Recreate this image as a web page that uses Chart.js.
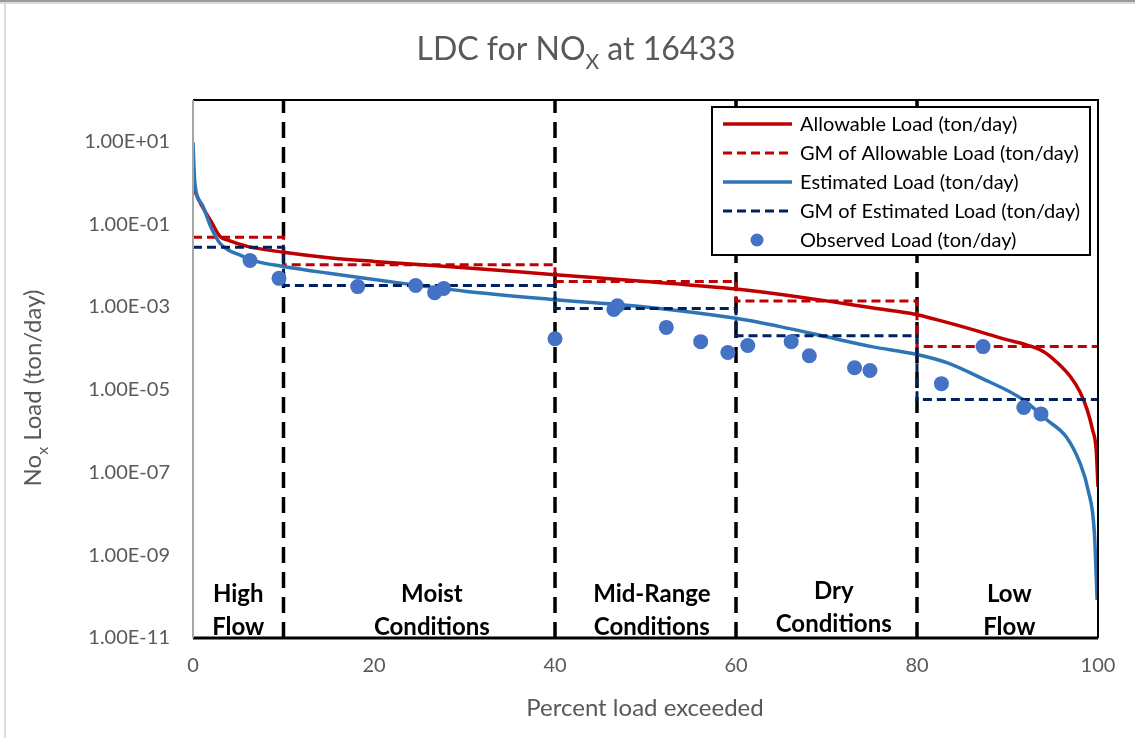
<!DOCTYPE html>
<html>
<head>
<meta charset="utf-8">
<script src="https://cdn.jsdelivr.net/npm/chart.js@4"></script>
<style>
  html, body { margin: 0; padding: 0; background: #fff; }
  #wrap { width: 1135px; height: 738px; }
</style>
</head>
<body>
<div id="wrap"><canvas id="chart" width="1135" height="738"></canvas></div>
<script>
// -------------------------
// DATA
// -------------------------
const allowPct = [0, 1, 2, 3, 4, 6, 10, 15, 20, 30, 40, 50, 60, 65, 70, 75, 80, 83, 87, 90, 92, 94, 95.5, 97, 98, 98.8, 99.4, 99.8, 100];
const allowLoad = [0.78, 0.27, 0.117, 0.050, 0.040, 0.029, 0.021, 0.0155, 0.0126, 0.0089, 0.0060, 0.0041, 0.0027, 0.0020, 0.0014, 0.00095, 0.00065, 0.00044, 0.00025, 0.00016, 0.000123, 0.000083, 0.000045, 0.000020, 0.0000089, 0.0000033, 0.00000107, 0.00000035, 0.000000045];

const estPct = [0, 0.2, 1, 2, 3, 4, 5, 7, 10, 15, 20, 30, 40, 50, 60, 65, 70, 75, 80, 83.3, 87, 91.7, 94.3, 96.5, 98, 98.9, 99.6, 99.9];
const estLoad = [9.5, 1.0, 0.30, 0.083, 0.034, 0.023, 0.0186, 0.0126, 0.0095, 0.0065, 0.0046, 0.0024, 0.0015, 0.0010, 0.00053, 0.00033, 0.00019, 0.00011, 0.000071, 0.000045, 0.0000195, 0.0000058, 0.0000019, 0.00000072, 0.00000017, 0.000000038, 0.0000000035, 0.000000000083];

const regionEdges = [0, 10, 40, 60, 80, 100];
const regionNames = [["High", "Flow"], ["Moist", "Conditions"], ["Mid-Range", "Conditions"], ["Dry", "Conditions"], ["Low", "Flow"]];
const gmAllowable = [0.048, 0.0105, 0.0041, 0.0014, 0.00011];
const gmEstimated = [0.0275, 0.0033, 0.00091, 0.00020, 0.0000058];

const obsPct = [6.3, 9.5, 18.2, 24.6, 26.7, 27.7, 40.0, 46.5, 46.9, 52.3, 56.1, 59.1, 61.3, 66.1, 68.1, 73.1, 74.8, 82.7, 87.3, 91.8, 93.7];
const obsLoad = [0.0132, 0.0049, 0.0031, 0.0033, 0.0022, 0.0028, 0.00017, 0.00087, 0.00107, 0.00032, 0.000145, 0.000079, 0.000117, 0.000145, 0.000066, 0.000034, 0.000029, 0.000014, 0.00011, 0.0000037, 0.0000026];

const xTicks = [0, 20, 40, 60, 80, 100];
const yTicks = [1e-11, 1e-9, 1e-7, 1e-5, 1e-3, 1e-1, 1e1];

// -------------------------
// HELPERS
// -------------------------
const toPoints = (xs, ys) => xs.map((x, i) => ({ x: x, y: ys[i] }));

function stepPoints(edges, vals) {
    const pts = [];
    vals.forEach((v, i) => {
        pts.push({ x: edges[i], y: v });
        pts.push({ x: edges[i + 1], y: v });
    });
    return pts;
}

function sciLabel(v) {
    const parts = Number(v).toExponential(2).split("e");
    let exp = parseInt(parts[1], 10);
    const sign = exp < 0 ? "-" : "+";
    exp = Math.abs(exp);
    return parts[0] + "E" + sign + (exp < 10 ? "0" + exp : exp);
}

// text with subscripts: parts = [[text, isSub], ...]
function drawParts(ctx, parts, x, y, size, color) {
    const subSize = Math.round(size * 0.66);
    let total = 0;
    parts.forEach(p => {
        ctx.font = (p[1] ? subSize : size) + "px Lato";
        total += ctx.measureText(p[0]).width;
    });
    let cx = x - total / 2;
    ctx.fillStyle = color;
    ctx.textAlign = "left";
    ctx.textBaseline = "alphabetic";
    parts.forEach(p => {
        ctx.font = (p[1] ? subSize : size) + "px Lato";
        ctx.fillText(p[0], cx, p[1] ? y + size * 0.28 : y);
        cx += ctx.measureText(p[0]).width;
    });
}

const RED = "#C00000";
const BLUE = "#2E75B6";
const NAVY = "#002060";
const DOT = "#4472C4";
const GREY_TEXT = "#595959";

const legendItems = [
    { label: "Allowable Load (ton/day)", color: RED, dash: [] },
    { label: "GM of Allowable Load (ton/day)", color: RED, dash: [9, 5] },
    { label: "Estimated Load (ton/day)", color: BLUE, dash: [] },
    { label: "GM of Estimated Load (ton/day)", color: NAVY, dash: [9, 5] },
    { label: "Observed Load (ton/day)", color: DOT, dot: true }
];

// -------------------------
// DECORATION PLUGIN
// -------------------------
const decor = {
    id: "decor",
    beforeDraw(chart) {
        const ctx = chart.ctx;
        ctx.save();
        ctx.fillStyle = "#fff";
        ctx.fillRect(0, 0, chart.width, chart.height);
        ctx.fillStyle = "#9a9a9a";
        ctx.fillRect(0, 0, chart.width, 2);
        ctx.fillStyle = "#dcdcdc";
        ctx.fillRect(0, 2, chart.width, 2);
        ctx.fillRect(4, 2, 2, chart.height);
        ctx.restore();
    },
    afterDatasetsDraw(chart) {
        const ctx = chart.ctx;
        const a = chart.chartArea;
        const xs = chart.scales.x;
        ctx.save();

        // plot frame
        ctx.strokeStyle = "#000";
        ctx.lineWidth = 2;
        ctx.beginPath();
        ctx.moveTo(a.left, a.top);
        ctx.lineTo(a.right, a.top);
        ctx.lineTo(a.right, a.bottom);
        ctx.stroke();
        ctx.lineWidth = 3;
        ctx.beginPath();
        ctx.moveTo(a.left, a.bottom);
        ctx.lineTo(a.right, a.bottom);
        ctx.stroke();
        ctx.strokeStyle = "#a6a6a6";
        ctx.lineWidth = 2;
        ctx.beginPath();
        ctx.moveTo(a.left, a.top);
        ctx.lineTo(a.left, a.bottom);
        ctx.stroke();

        // flow region labels
        const shift = [0, 1.4, 0.7, 0.8, 0.2];
        const lift = [0, 0, 0, 3, 0];
        ctx.fillStyle = "#000";
        ctx.font = "bold 24px Lato";
        ctx.textAlign = "center";
        ctx.textBaseline = "middle";
        regionNames.forEach((lines, i) => {
            const mid = (regionEdges[i] + regionEdges[i + 1]) / 2 + shift[i];
            const px = xs.getPixelForValue(mid);
            ctx.fillText(lines[0], px, 594 - lift[i]);
            ctx.fillText(lines[1], px, 627 - lift[i]);
        });

        // legend
        const lx = 712, ly = 107, lw = 378, lh = 148;
        ctx.fillStyle = "#fff";
        ctx.fillRect(lx, ly, lw, lh);
        ctx.strokeStyle = "#000";
        ctx.lineWidth = 2;
        ctx.strokeRect(lx, ly, lw, lh);
        ctx.font = "20px Lato";
        ctx.textAlign = "left";
        ctx.textBaseline = "middle";
        legendItems.forEach((it, i) => {
            const y = 124 + i * 29;
            if (it.dot) {
                ctx.fillStyle = it.color;
                ctx.beginPath();
                ctx.arc(757, y, 6.5, 0, Math.PI * 2);
                ctx.fill();
            } else {
                ctx.strokeStyle = it.color;
                ctx.lineWidth = it.dash.length ? 3 : 3.5;
                ctx.setLineDash(it.dash);
                ctx.beginPath();
                ctx.moveTo(723, y);
                ctx.lineTo(792, y);
                ctx.stroke();
                ctx.setLineDash([]);
            }
            ctx.fillStyle = "#000";
            ctx.fillText(it.label, 800, y + 1);
        });
        ctx.restore();
    },
    afterDraw(chart) {
        const ctx = chart.ctx;
        ctx.save();
        // title
        drawParts(ctx, [["LDC for NO", false], ["X", true], [" at 16433", false]], 576, 60, 32, GREY_TEXT);
        // x title
        ctx.fillStyle = GREY_TEXT;
        ctx.font = "24px Lato";
        ctx.textAlign = "center";
        ctx.textBaseline = "middle";
        ctx.fillText("Percent load exceeded", 645, 708);
        // y title
        ctx.translate(41, 388);
        ctx.rotate(-Math.PI / 2);
        drawParts(ctx, [["No", false], ["x", true], [" Load (ton/day)", false]], 0, 0, 24, GREY_TEXT);
        ctx.restore();
    }
};

// -------------------------
// CHART
// -------------------------
const datasets = [
    {
        label: "Observed Load (ton/day)",
        data: toPoints(obsPct, obsLoad),
        showLine: false,
        pointRadius: 7.5,
        pointBackgroundColor: DOT,
        pointBorderWidth: 0
    },
    {
        label: "GM of Estimated Load (ton/day)",
        data: stepPoints(regionEdges, gmEstimated),
        showLine: true,
        borderColor: NAVY,
        borderWidth: 3,
        borderDash: [9, 5],
        pointRadius: 0
    },
    {
        label: "Estimated Load (ton/day)",
        data: toPoints(estPct, estLoad),
        showLine: true,
        cubicInterpolationMode: "monotone",
        borderColor: BLUE,
        borderWidth: 3.5,
        pointRadius: 0
    },
    {
        label: "GM of Allowable Load (ton/day)",
        data: stepPoints(regionEdges, gmAllowable),
        showLine: true,
        borderColor: RED,
        borderWidth: 3,
        borderDash: [9, 5],
        pointRadius: 0
    },
    {
        label: "Allowable Load (ton/day)",
        data: toPoints(allowPct, allowLoad),
        showLine: true,
        cubicInterpolationMode: "monotone",
        borderColor: RED,
        borderWidth: 3.5,
        pointRadius: 0
    }
];

// flow-condition boundaries
regionEdges.slice(1, -1).forEach(edge => {
    datasets.push({
        label: "boundary " + edge,
        data: [{ x: edge, y: 1e-11 }, { x: edge, y: 1e2 }],
        showLine: true,
        borderColor: "#000",
        borderWidth: 3.5,
        borderDash: [16, 9],
        pointRadius: 0
    });
});

new Chart(document.getElementById("chart"), {
    type: "scatter",
    data: { datasets: datasets },
    options: {
        responsive: false,
        animation: false,
        layout: { padding: { left: 0, right: 37, top: 100, bottom: 0 } },
        plugins: {
            legend: { display: false },
            title: { display: false },
            tooltip: { enabled: false }
        },
        scales: {
            x: {
                type: "linear",
                min: 0,
                max: 100,
                afterBuildTicks: s => { s.ticks = xTicks.map(v => ({ value: v })); },
                afterFit: s => { s.height = 100; },
                grid: { display: false, drawTicks: false },
                border: { display: false },
                ticks: { padding: 16, color: GREY_TEXT, font: { family: "Lato", size: 20 } }
            },
            y: {
                type: "logarithmic",
                min: 1e-11,
                max: 1e2,
                afterBuildTicks: s => { s.ticks = yTicks.map(v => ({ value: v })); },
                afterFit: s => { s.width = 193; },
                grid: { display: false, drawTicks: false },
                border: { display: false },
                ticks: {
                    padding: 23,
                    color: GREY_TEXT,
                    font: { family: "Lato", size: 20 },
                    callback: v => sciLabel(v)
                }
            }
        }
    },
    plugins: [decor]
});
</script>
</body>
</html>
